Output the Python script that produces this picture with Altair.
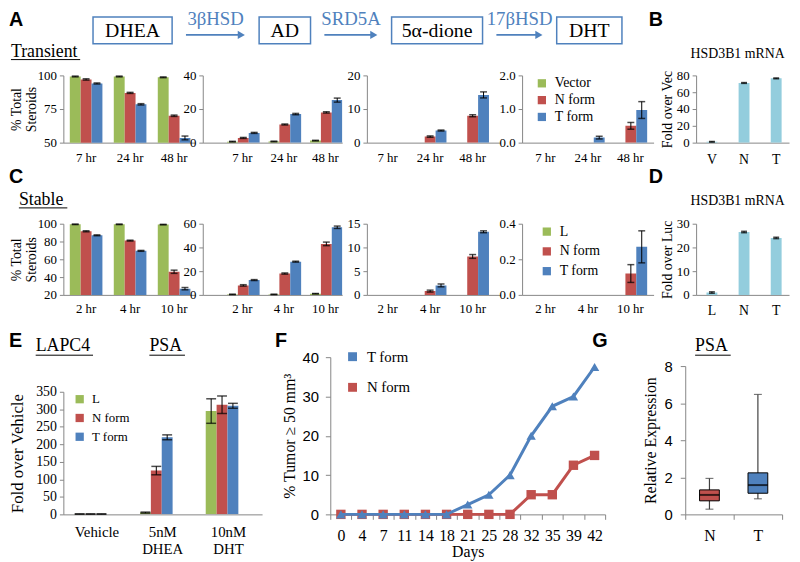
import altair as alt
import pandas as pd

SERIF = "Liberation Serif"
SANS = "Liberation Sans"
GREEN, RED, BLUE, CYAN = "#9BBB59", "#C0504D", "#4F81BD", "#93CDDD"
GREY = "#868686"

# ---------------- data ----------------
COMPOUNDS = ["DHEA", "AD", "5α-dione", "DHT"]
ENZYMES = ["3βHSD", "SRD5A", "17βHSD"]

T_TIMES = ["7 hr", "24 hr", "48 hr"]
T_SERIES = ["Vector", "N form", "T form"]
T_DHEA = {"Vector": [99.2, 99.2, 98.6], "N form": [97.0, 87.0, 70.0], "T form": [94.0, 78.5, 53.5]}
T_DHEA_ERR = {"Vector": [0.3, 0.3, 0.3], "N form": [0.5, 0.4, 0.5], "T form": [0.4, 0.5, 1.4]}
T_AD = {"Vector": [0.6, 0.7, 1.2], "N form": [2.8, 10.8, 18.0], "T form": [5.8, 17.0, 25.3]}
T_AD_ERR = {"Vector": [0.2, 0.2, 0.2], "N form": [0.3, 0.3, 0.4], "T form": [0.3, 0.4, 1.2]}
T_DIONE = {"Vector": [0, 0, 0], "N form": [0, 1.8, 8.0], "T form": [0, 3.6, 14.2]}
T_DIONE_ERR = {"Vector": [0, 0, 0], "N form": [0, 0.2, 0.3], "T form": [0, 0.15, 0.9]}
T_DHT = {"Vector": [0, 0, 0], "N form": [0, 0, 0.5], "T form": [0, 0.15, 0.97]}
T_DHT_ERR = {"Vector": [0, 0, 0], "N form": [0, 0, 0.1], "T form": [0, 0.04, 0.25]}

B_CATS = ["V", "N", "T"]
B_MRNA = [1.0, 71.0, 76.5]
B_MRNA_ERR = [0.4, 0.5, 0.5]

S_TIMES = ["2 hr", "4 hr", "10 hr"]
S_SERIES = ["L", "N form", "T form"]
S_DHEA = {"L": [99.3, 99.3, 99.0], "N form": [91.5, 81.0, 46.0], "T form": [87.0, 69.5, 27.0]}
S_DHEA_ERR = {"L": [0.3, 0.3, 0.3], "N form": [0.6, 0.5, 1.8], "T form": [0.5, 0.5, 1.3]}
S_AD = {"L": [0.4, 0.4, 1.0], "N form": [8.0, 18.0, 43.0], "T form": [12.5, 28.0, 57.0]}
S_AD_ERR = {"L": [0.2, 0.2, 0.2], "N form": [0.6, 0.5, 1.5], "T form": [0.4, 0.4, 1.0]}
S_DIONE = {"L": [0, 0, 0], "N form": [0, 0.8, 8.1], "T form": [0, 2.0, 13.3]}
S_DIONE_ERR = {"L": [0, 0, 0], "N form": [0, 0.2, 0.4], "T form": [0, 0.3, 0.2]}
S_DHT = {"L": [0, 0, 0], "N form": [0, 0, 0.12], "T form": [0, 0, 0.27]}
S_DHT_ERR = {"L": [0, 0, 0], "N form": [0, 0, 0.05], "T form": [0, 0, 0.09]}

D_CATS = ["L", "N", "T"]
D_MRNA = [1.0, 26.5, 24.0]
D_MRNA_ERR = [0.3, 0.3, 0.3]

PSA_TREAT = ["Vehicle", "5nM DHEA", "10nM DHT"]
PSA_SERIES = ["L", "N form", "T form"]
PSA = {"L": [1, 5, 295], "N form": [1, 125, 313], "T form": [1, 220, 310]}
PSA_ERR = {"L": [0.3, 1.5, 35], "N form": [0.3, 12, 25], "T form": [0.3, 7, 7]}

DAYS = ["0", "4", "7", "11", "14", "18", "21", "25", "28", "32", "35", "39", "42"]
TUMOR_T = [0, 0, 0, 0, 0, 0, 2.5, 5, 10, 20, 27.5, 30, 37.5]
TUMOR_N = [0, 0, 0, 0, 0, 0, 0, 0, 0, 5, 5, 12.5, 15]

BOX_GROUPS = ["N", "T"]
BOX_MIN = [0.28, 0.84]
BOX_Q1 = [0.73, 1.14]
BOX_MED = [1.05, 1.58]
BOX_Q3 = [1.32, 2.24]
BOX_MAX = [1.94, 6.47]

# ---------------- layout (reference pixels) ----------------
COLS = {  # plot left, plot right, first group centre, group step, group width
    1: (63, 196, 86, 44.5, 33),
    2: (204, 345, 244, 42, 31),
    3: (370, 505, 391, 43, 33),
    4: (527, 660, 550.5, 43, 32),
    "B": (703, 797, 719, 32.5, 11),
}
ROW_A = (74, 142)
ROW_C = (224, 296)
E_GEOM = (63, 264, 97, 66.5, 46)
E_TOP = 394
F_BOX = (333, 611, 359, 518)
G_BOX = (692, 790, 368, 518)
ORIGIN_X = 63
TOP = 8


def band_scale(domain, left, right, c0, step, gw):
    n = len(domain)
    W = right - left
    pi = 1 - gw / step
    po = max(0.0, (W / step - n + pi) / 2)
    st = W / (n - pi + 2 * po)
    free = W - st * (n - pi)
    off = c0 - left - gw / 2
    al = min(1.0, max(0.0, off / free)) if free > 0.5 else 0.5
    return alt.Scale(domain=domain, paddingInner=pi, paddingOuter=po, align=al), W


ONE = pd.DataFrame({"z": [0]})


def spacer(w=1, h=1):
    return alt.Chart(ONE).mark_point(opacity=0).encode(
        x=alt.value(0), y=alt.value(0)).properties(width=w, height=h)


def note(text, x, y, size, font=SERIF, weight="normal", align="left", color="black"):
    return alt.Chart(ONE).mark_text(text=text, font=font, fontSize=size, fontWeight=weight,
                                    align=align, baseline="middle", color=color).encode(
        x=alt.value(x), y=alt.value(y))


def underline(x0, x1, y):
    return alt.Chart(ONE).mark_rule(color="black", strokeWidth=1).encode(
        x=alt.value(x0), x2=alt.value(x1), y=alt.value(y))


def bar_panel(cats, series, vals, errs, colors, ydom, yticks, geom, height,
              ytitle=None, legend=None, lab_pad=5, cap=7, xfont=13, yfont=13,
              tfont=14, tpad=2, title_x=None, label_expr=None, line_h=14):
    left, right, c0, step, gw = geom
    rows = []
    for k, s in enumerate(series):
        for i, c in enumerate(cats):
            v = vals[s][i]
            e = errs[s][i]
            rows.append(dict(c=c, s=s, k=k, v=v, lo=v - e, hi=v + e))
    df = pd.DataFrame(rows)
    xs, W = band_scale(cats, left, right, c0, step, gw)
    xax = dict(labelAngle=0, ticks=False, labelFont=SERIF, labelFontSize=xfont,
               labelPadding=lab_pad)
    if label_expr:
        xax.update(labelExpr=label_expr, labelLineHeight=18)
    xenc = alt.X("c:N", scale=xs, title=None, axis=alt.Axis(**xax))
    xo = alt.XOffset("k:O", scale=alt.Scale(domain=list(range(len(series))),
                                            paddingInner=0, paddingOuter=0))
    ys = alt.Scale(domain=ydom, nice=False, zero=False)
    yax_kw = dict(values=yticks, title=ytitle, tickSize=4, labelPadding=3, labelFont=SERIF,
                  labelFontSize=yfont, titleFont=SERIF, titleFontSize=tfont,
                  titlePadding=tpad, titleLineHeight=line_h)
    if title_x is not None:
        yax_kw.update(titleX=title_x, titleBaseline="top")
    yax = alt.Axis(**yax_kw)
    base = alt.Chart(df)
    bars = base.mark_bar(clip=True).encode(
        x=xenc, xOffset=xo, y=alt.Y("v:Q", scale=ys, axis=yax),
        color=alt.Color("s:N", scale=alt.Scale(domain=series, range=colors), legend=legend))
    eb = base.transform_filter("datum.v > 0")
    rule = eb.mark_rule(color="black", strokeWidth=1).encode(
        x=xenc, xOffset=xo, y=alt.Y("lo:Q", scale=ys, axis=yax), y2="hi:Q")
    cap_hi = eb.mark_tick(color="black", orient="horizontal", size=cap, thickness=1.5).encode(
        x=xenc, xOffset=xo, y=alt.Y("hi:Q", scale=ys, axis=yax))
    cap_lo = eb.mark_tick(color="black", orient="horizontal", size=cap, thickness=1.5).encode(
        x=xenc, xOffset=xo, y=alt.Y("lo:Q", scale=ys, axis=yax))
    return alt.layer(bars, rule, cap_hi, cap_lo).properties(width=W, height=height)


def bar_legend(x, y, row_pad, size=14):
    return alt.Legend(orient="none", legendX=x, legendY=y, title=None, symbolType="square",
                      symbolSize=70, symbolStrokeWidth=0, labelFont=SERIF, labelFontSize=size,
                      rowPadding=row_pad, padding=0, labelOffset=6)


# ---------------- pathway diagram ----------------
PPU = 154.0
IDX0_PX = 133
D_W = 737
D_H = ROW_A[0] - TOP
BOX_HALF_PX = {"DHEA": 40, "AD": 26, "5α-dione": 46, "DHT": 33}
GAP, HEAD = 14, 4
dom0 = (ORIGIN_X - IDX0_PX) / PPU
dom1 = dom0 + D_W / PPU
box_df = pd.DataFrame({"name": COMPOUNDS, "i": list(range(len(COMPOUNDS)))})
half = box_df["name"].map(BOX_HALF_PX) / PPU
box_df["lo"] = box_df["i"] - half
box_df["hi"] = box_df["i"] + half
arr_df = pd.DataFrame({"enzyme": ENZYMES})
arr_df["a0"] = box_df["hi"].values[:-1] + GAP / PPU
arr_end = box_df["lo"].values[1:] - GAP / PPU
arr_df["a1"] = arr_end - HEAD / PPU
arr_df["mid"] = (arr_df["a0"] + arr_end) / 2
dx = alt.Scale(domain=[dom0, dom1], nice=False, zero=False)


def ry(v):
    return v - TOP


d_rect = alt.Chart(box_df).mark_rect(fill="white", stroke=BLUE, strokeWidth=1.5).encode(
    x=alt.X("lo:Q", scale=dx, axis=None), x2="hi:Q", y=alt.value(ry(15)), y2=alt.value(ry(42)))
d_text = alt.Chart(box_df).mark_text(font=SERIF, fontSize=20, color="black").encode(
    x=alt.X("i:Q", scale=dx, axis=None), y=alt.value(ry(29)), text="name:N")
d_line = alt.Chart(arr_df).mark_rule(color=BLUE, strokeWidth=2).encode(
    x=alt.X("a0:Q", scale=dx, axis=None), x2="a1:Q", y=alt.value(ry(33)))
d_head = alt.Chart(arr_df).mark_point(shape="triangle-right", filled=True, size=70,
                                      color=BLUE, opacity=1).encode(
    x=alt.X("a1:Q", scale=dx, axis=None), y=alt.value(ry(33)))
d_enz = alt.Chart(arr_df).mark_text(font=SERIF, fontSize=19, color=BLUE).encode(
    x=alt.X("mid:Q", scale=dx, axis=None), y=alt.value(ry(17)), text="enzyme:N")

diagram = alt.layer(
    d_rect, d_text, d_line, d_head, d_enz,
    note("A", 8 - ORIGIN_X, ry(18), 20, font=SANS, weight="bold"),
    note("Transient", 10 - ORIGIN_X, ry(50), 18),
    underline(10 - ORIGIN_X, 80 - ORIGIN_X, ry(58)),
    note("B", 655 - ORIGIN_X, ry(18), 20, font=SANS, weight="bold"),
    note("HSD3B1 mRNA", 745 - ORIGIN_X, ry(52), 14, align="center"),
).properties(width=D_W, height=D_H)

# ---------------- row A ----------------
hA = ROW_A[1] - ROW_A[0]
TS = T_SERIES
TC = [GREEN, RED, BLUE]
a1 = bar_panel(T_TIMES, TS, T_DHEA, T_DHEA_ERR, TC, [50, 100], [50, 75, 100], COLS[1], hA,
               ytitle=["% Total", "Steroids"], title_x=9 - COLS[1][0], line_h=15, lab_pad=9)
a2 = bar_panel(T_TIMES, TS, T_AD, T_AD_ERR, TC, [0, 40], [0, 20, 40], COLS[2], hA, lab_pad=9)
a3 = bar_panel(T_TIMES, TS, T_DIONE, T_DIONE_ERR, TC, [0, 20], [0, 10, 20], COLS[3], hA,
               lab_pad=9)
a4 = bar_panel(T_TIMES, TS, T_DHT, T_DHT_ERR, TC, [0, 2], [0, 1, 2], COLS[4], hA,
               legend=bar_legend(13, 1, 3), lab_pad=9)
b = bar_panel(B_CATS, ["m"], {"m": B_MRNA}, {"m": B_MRNA_ERR}, [CYAN], [0, 80],
              [0, 20, 40, 60, 80], COLS["B"], hA, ytitle="Fold over Vec", cap=6,
              xfont=14, lab_pad=10)


def row(items):
    return alt.hconcat(*items, spacing=0, bounds="flush").resolve_scale(color="independent")


rowA = row([a1, spacer(COLS[2][0] - COLS[1][1]), a2, spacer(COLS[3][0] - COLS[2][1]), a3,
            spacer(COLS[4][0] - COLS[3][1]), a4, spacer(COLS["B"][0] - COLS[4][1]), b])

# ---------------- labels between rows A and C (nested rows take no height) ----------------
gAC_top = ROW_A[0]
gapAC = alt.layer(
    spacer(D_W, ROW_C[0] - ROW_A[0]),
    note("C", 8 - ORIGIN_X, 177 - gAC_top, 20, font=SANS, weight="bold"),
    note("Stable", 18 - ORIGIN_X, 200 - gAC_top, 18),
    underline(18 - ORIGIN_X, 67 - ORIGIN_X, 208 - gAC_top),
    note("D", 655 - ORIGIN_X, 177 - gAC_top, 20, font=SANS, weight="bold"),
    note("HSD3B1 mRNA", 745 - ORIGIN_X, 201 - gAC_top, 14, align="center"),
).properties(width=D_W, height=ROW_C[0] - ROW_A[0])

# ---------------- row C ----------------
hC = ROW_C[1] - ROW_C[0]
SS = S_SERIES
c1 = bar_panel(S_TIMES, SS, S_DHEA, S_DHEA_ERR, TC, [20, 100], [20, 40, 60, 80, 100], COLS[1],
               hC, ytitle=["% Total", "Steroids"], lab_pad=8, title_x=9 - COLS[1][0], line_h=15)
c2 = bar_panel(S_TIMES, SS, S_AD, S_AD_ERR, TC, [0, 60], [0, 20, 40, 60], COLS[2], hC, lab_pad=8)
c3 = bar_panel(S_TIMES, SS, S_DIONE, S_DIONE_ERR, TC, [0, 15], [0, 5, 10, 15], COLS[3], hC,
               lab_pad=8)
c4 = bar_panel(S_TIMES, SS, S_DHT, S_DHT_ERR, TC, [0, 0.4], [0, 0.2, 0.4], COLS[4], hC,
               legend=bar_legend(18, 1, 6), lab_pad=8)
d = bar_panel(D_CATS, ["m"], {"m": D_MRNA}, {"m": D_MRNA_ERR}, [CYAN], [0, 30],
              [0, 10, 20, 30], COLS["B"], hC, ytitle="Fold over Luc", cap=6, xfont=14,
              lab_pad=9)
rowC = row([c1, spacer(COLS[2][0] - COLS[1][1]), c2, spacer(COLS[3][0] - COLS[2][1]), c3,
            spacer(COLS[4][0] - COLS[3][1]), c4, spacer(COLS["B"][0] - COLS[4][1]), d])

# ---------------- labels between rows C and E/F/G ----------------
gCE_top = ROW_C[0]
gCE_h = F_BOX[2] - ROW_C[0]
gapCE = alt.layer(
    spacer(D_W, gCE_h),
    note("E", 8 - ORIGIN_X, 343 - gCE_top, 20, font=SANS, weight="bold"),
    note("LAPC4", 35 - ORIGIN_X, 348 - gCE_top, 18),
    underline(35 - ORIGIN_X, 93 - ORIGIN_X, 357 - gCE_top),
    note("PSA", 150 - ORIGIN_X, 348 - gCE_top, 18),
    underline(150 - ORIGIN_X, 186 - ORIGIN_X, 357 - gCE_top),
    note("F", 277 - ORIGIN_X, 343 - gCE_top, 20, font=SANS, weight="bold"),
    note("G", 598 - ORIGIN_X, 343 - gCE_top, 20, font=SANS, weight="bold"),
    note("PSA", 702 - ORIGIN_X, 348 - gCE_top, 18),
    underline(702 - ORIGIN_X, 738 - ORIGIN_X, 357 - gCE_top),
).properties(width=D_W, height=gCE_h)

# ---------------- E: PSA bars ----------------
e_h = F_BOX[3] - E_TOP
e_spacer = E_TOP - F_BOX[2]
e_chart = bar_panel(PSA_TREAT, PSA_SERIES, PSA, PSA_ERR, TC, [0, 350],
                    [0, 50, 100, 150, 200, 250, 300, 350], E_GEOM, e_h,
                    ytitle="Fold over Vehicle", legend=bar_legend(10, e_spacer + 1, 5, 13),
                    cap=10, xfont=15, yfont=14, tfont=17, lab_pad=10, title_x=9 - E_GEOM[0],
                    label_expr="split(datum.label, ' ')")
e_col = alt.vconcat(spacer(1, e_spacer), e_chart, spacing=0, bounds="flush")

# ---------------- F: tumour incidence ----------------
fdf = pd.DataFrame({"d": DAYS * 2,
                    "s": ["T form"] * len(DAYS) + ["N form"] * len(DAYS),
                    "v": TUMOR_T + TUMOR_N})
fx = alt.X("d:N", scale=alt.Scale(domain=DAYS, paddingInner=0, paddingOuter=0), title="Days",
           axis=alt.Axis(labelAngle=0, tickBand="extent", tickSize=5, labelFont=SERIF,
                         labelFontSize=16, labelPadding=8, titleFont=SERIF, titleFontSize=16,
                         titlePadding=1))
fy = alt.Y("v:Q", scale=alt.Scale(domain=[0, 40], nice=False),
           axis=alt.Axis(values=[0, 10, 20, 30, 40], title="% Tumor ≥ 50 mm³", labelFont=SANS,
                         labelFontSize=15, tickSize=5, labelPadding=7, titleFont=SERIF,
                         titleFontSize=16, titlePadding=5))
fcol = alt.Color("s:N", scale=alt.Scale(domain=["T form", "N form"], range=[BLUE, RED]),
                 legend=alt.Legend(orient="none", legendX=15, legendY=-8, title=None,
                                   symbolType="square", symbolSize=81, symbolStrokeWidth=0,
                                   labelFont=SERIF, labelFontSize=15, rowPadding=15,
                                   padding=0, labelOffset=7))
fbase = alt.Chart(fdf)
n_line = fbase.transform_filter("datum.s == 'N form'").mark_line(strokeWidth=3).encode(
    x=fx, y=fy, color=fcol)
n_pts = fbase.transform_filter("datum.s == 'N form'").mark_point(
    shape="square", filled=True, size=90, opacity=1).encode(x=fx, y=fy, color=fcol)
t_line = fbase.transform_filter("datum.s == 'T form'").mark_line(strokeWidth=3).encode(
    x=fx, y=fy, color=fcol)
t_pts = fbase.transform_filter("datum.s == 'T form'").mark_point(
    shape="triangle-up", filled=True, size=90, opacity=1).encode(x=fx, y=fy, color=fcol)
f_chart = alt.layer(n_line, n_pts, t_line, t_pts).properties(
    width=F_BOX[1] - F_BOX[0], height=F_BOX[3] - F_BOX[2])

# ---------------- G: box plot ----------------
gdf = pd.DataFrame({"g": BOX_GROUPS, "lo": BOX_MIN, "q1": BOX_Q1, "med": BOX_MED,
                    "q3": BOX_Q3, "hi": BOX_MAX})
gx = alt.X("g:N", scale=alt.Scale(domain=BOX_GROUPS, paddingInner=0, paddingOuter=0),
           title=None, axis=alt.Axis(labelAngle=0, tickBand="extent", tickSize=5,
                                     labelFont=SERIF, labelFontSize=16, labelPadding=8))
gys = alt.Scale(domain=[0, 8], nice=False)
gax = alt.Axis(values=[0, 2, 4, 6, 8], title="Relative Expression", labelFont=SANS,
               labelFontSize=15, tickSize=5, labelPadding=8, titleFont=SERIF, titleFontSize=16,
               titlePadding=6)
gbase = alt.Chart(gdf)
g_wh = gbase.mark_rule(color="#404040", strokeWidth=1.2).encode(
    x=gx, y=alt.Y("lo:Q", scale=gys, axis=gax), y2="hi:Q")
g_box = gbase.mark_bar(width=20, stroke="black", strokeWidth=1).encode(
    x=gx, y=alt.Y("q1:Q", scale=gys, axis=gax), y2="q3:Q",
    color=alt.Color("g:N", scale=alt.Scale(domain=BOX_GROUPS, range=[RED, BLUE]), legend=None))
g_med = gbase.mark_tick(orient="horizontal", size=20, thickness=2, color="black").encode(
    x=gx, y=alt.Y("med:Q", scale=gys, axis=gax))
g_lo = gbase.mark_tick(orient="horizontal", size=8, thickness=1.2, color="#404040").encode(
    x=gx, y=alt.Y("lo:Q", scale=gys, axis=gax))
g_hi = gbase.mark_tick(orient="horizontal", size=8, thickness=1.2, color="#404040").encode(
    x=gx, y=alt.Y("hi:Q", scale=gys, axis=gax))
g_chart = alt.layer(g_wh, g_box, g_med, g_lo, g_hi).properties(
    width=G_BOX[1] - G_BOX[0], height=G_BOX[3] - G_BOX[2])
g_col = alt.vconcat(spacer(1, G_BOX[2] - F_BOX[2]), g_chart, spacing=0, bounds="flush")

# nested concats occupy no width in a flush layout: the gap after e_col spans E's width too
rowEFG = row([e_col, spacer(F_BOX[0] - E_GEOM[0]), f_chart, spacer(G_BOX[0] - F_BOX[1]), g_col])

chart = alt.vconcat(diagram, rowA, gapAC, rowC, gapCE, rowEFG, spacing=0,
                    bounds="flush").resolve_scale(color="independent").properties(
    padding={"left": 0, "top": -1, "right": 0, "bottom": 0}
).configure_view(stroke=None).configure_axis(
    grid=False, domainColor=GREY, tickColor=GREY, labelColor="black", titleColor="black",
    labelFont=SERIF, titleFont=SERIF, titleFontWeight="normal"
)

chart.save("out.html", embed_options={"renderer": "svg", "actions": False})
